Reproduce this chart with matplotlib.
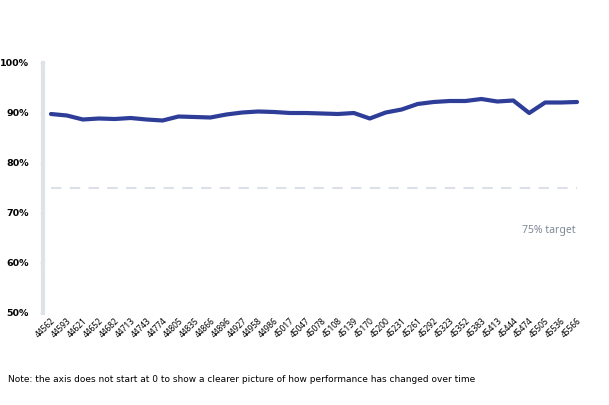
import matplotlib.pyplot as plt

# data
months = ['44562', '44593', '44621', '44652', '44682', '44713', '44743', '44774',
          '44805', '44835', '44866', '44896', '44927', '44958', '44986', '45017',
          '45047', '45078', '45108', '45139', '45170', '45200', '45231', '45261',
          '45292', '45323', '45352', '45383', '45413', '45444', '45474', '45505',
          '45536', '45566']
performance = [89.8, 89.5, 88.7, 88.9, 88.8, 89.0, 88.7, 88.5, 89.3, 89.2, 89.1, 89.7,
               90.1, 90.3, 90.2, 90.0, 90.0, 89.9, 89.8, 90.0, 88.9, 90.1, 90.7, 91.8,
               92.2, 92.4, 92.4, 92.8, 92.3, 92.5, 90.0, 92.1, 92.1, 92.2]
target = 75
y_ticks = [50, 60, 70, 80, 90, 100]

fig = plt.figure(figsize=(6.09, 4.05), dpi=100)
ax = fig.add_axes([43 / 609, 1 - 313 / 405, 542 / 609, 250 / 405])

x = list(range(len(months)))
ax.plot(x, performance, color='#2e3d98', linewidth=3, solid_capstyle='round', zorder=3)
ax.plot(x, [target] * len(x), color='#dce1e7', linewidth=1.5, dashes=(5, 4), zorder=2)
ax.text(32.9, 66.6, '75% target', color='#7f8a96', fontsize=7.5, ha='right',
        va='center', family='Noto Sans')

ax.set_xlim(-0.5, len(x) - 0.5)
ax.set_ylim(50, 100)
ax.set_yticks(y_ticks)
ax.set_yticklabels([f'{v}%' for v in y_ticks], fontsize=6.8, fontweight='bold',
                   family='DejaVu Sans')
ax.set_xticks(x)
ax.set_xticklabels(months, rotation=45, ha='right', rotation_mode='anchor',
                   fontsize=6, family='Noto Sans')

for s in ['top', 'right', 'bottom']:
    ax.spines[s].set_visible(False)
ax.spines['left'].set_color('#dde3e8')
ax.spines['left'].set_linewidth(3)
ax.tick_params(axis='y', length=2, color='#dde3e8', pad=8)
ax.tick_params(axis='x', length=0, pad=2)

fig.text(8 / 609, 1 - 380 / 405, 'Note: the axis does not start at 0 to show a clearer '
         'picture of how performance has changed over time',
         fontsize=6.45, va='center', family='Liberation Sans Narrow')

fig.savefig('out.png', dpi=100)
